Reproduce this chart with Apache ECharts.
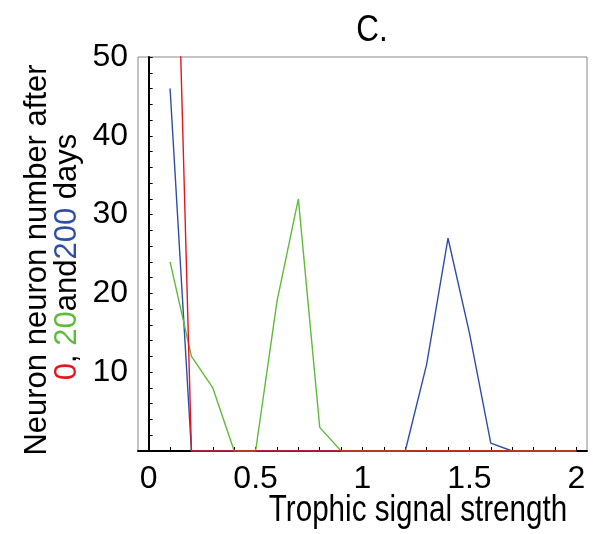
<!DOCTYPE html>
<html><head><meta charset="utf-8">
<script src="https://cdn.jsdelivr.net/npm/echarts@6/dist/echarts.min.js"></script>
<style>html,body{margin:0;padding:0;background:#fff}#c{width:607px;height:534px}</style>
</head><body><div id="c"></div>
<script>
var xs = [0.1,0.2,0.3,0.4,0.5,0.6,0.7,0.8,0.9,1.0,1.1,1.2,1.3,1.4,1.5,1.6,1.7,1.8,1.9,2.0];
var day0   = [100,0,0,0,0,0,0,0,0,0,0,0,0,0,0,0,0,0,0,0];
var day20  = [24,12,8,0,0,19,32,3,0,0,0,0,0,0,0,0,0,0,0,0];
var day200 = [46,0,0,0,0,0,0,0,0,0,0,0,11,27,15,1,0,0,0,0];
var xTickLabels = [0,0.5,1,1.5,2];
var xMinorTicks = [0,0.1,0.2,0.3,0.4,0.5,0.6,0.7,0.8,0.9,1,1.1,1.2,1.3,1.4,1.5,1.6,1.7,1.8,1.9,2];
var yTickLabels = [10,20,30,40,50];

var FONT = "'Liberation Sans Narrow','Liberation Sans',sans-serif";
function pairs(v){ return xs.map(function(x,i){ return [x, v[i]]; }); }
var chart = echarts.init(document.getElementById('c'));
chart.setOption({
  animation:false,
  grid:{left:138,right:20,top:57,bottom:83,show:true,borderColor:'#888',borderWidth:1,containLabel:false},
  xAxis:{type:'value',min:-0.05,max:2.05,
    axisLine:{show:true,onZero:false,lineStyle:{color:'#000',width:2}},
    axisTick:{show:true,inside:true,length:4,customValues:xMinorTicks,lineStyle:{color:'#000'}},
    axisLabel:{customValues:xTickLabels,fontFamily:FONT,fontSize:32,color:'#000',margin:12},
    splitLine:{show:false}},
  yAxis:{type:'value',min:0,max:50,interval:2,
    axisLine:{show:true,lineStyle:{color:'#000',width:2}},
    axisTick:{show:true,inside:true,length:4,lineStyle:{color:'#000'}},
    axisLabel:{customValues:yTickLabels,fontFamily:FONT,fontSize:32,color:'#000',margin:10},
    splitLine:{show:false}},
  series:[
    {type:'line',data:pairs(day200),showSymbol:false,lineStyle:{color:'#2e4ea6',width:1.4},z:2},
    {type:'line',data:pairs(day20),showSymbol:false,lineStyle:{color:'#5fbb3a',width:1.4},z:3},
    {type:'line',data:pairs(day0),showSymbol:false,lineStyle:{color:'#e8141c',width:1.4},z:4}
  ],
  graphic:[
    {type:'text',x:372,y:31,scaleX:0.85,style:{text:'C.',font:'37px '+FONT,fill:'#000',align:'center',verticalAlign:'middle'}},
    {type:'text',x:418,y:511,scaleX:0.8,style:{text:'Trophic signal strength',font:'37px '+FONT,fill:'#000',align:'center',verticalAlign:'middle'}},
    {type:'text',x:37,y:260,rotation:Math.PI/2,style:{text:'Neuron neuron number after',font:'31px '+FONT,fill:'#000',align:'center',verticalAlign:'middle'}},
    {type:'text',x:67,y:257,rotation:Math.PI/2,style:{
      text:'{r|0}{k|, }{g|20}{k|and}{b|200}{k| days}',
      font:'31px '+FONT,align:'center',verticalAlign:'middle',
      rich:{r:{fill:'#e8141c',font:'31px '+FONT},k:{fill:'#000',font:'31px '+FONT},g:{fill:'#5fbb3a',font:'31px '+FONT},b:{fill:'#2e4ea6',font:'31px '+FONT}}}}
  ]
});
</script></body></html>
